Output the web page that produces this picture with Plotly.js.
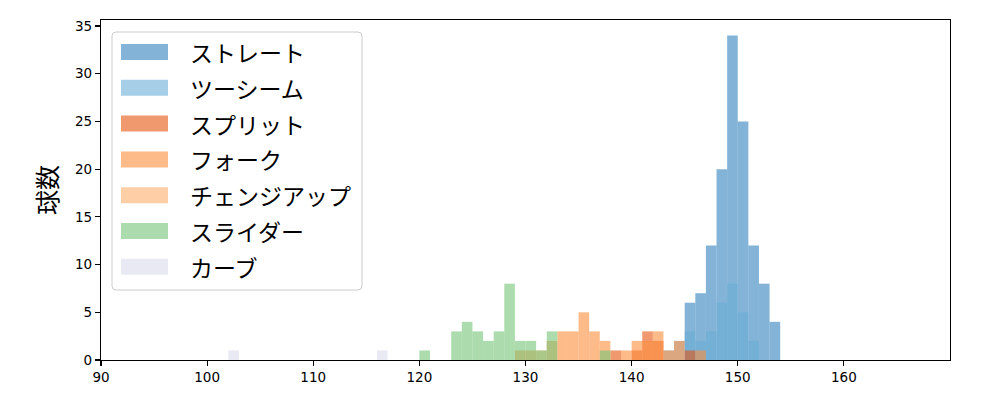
<!DOCTYPE html>
<html><head><meta charset="utf-8">
<script src="https://cdn.plot.ly/plotly-3.0.1.min.js"></script>
<style>body{margin:0;background:#fff}</style>
</head><body><div id="chart" style="width:1000px;height:400px"></div>
<script>
// ---- data (bin left edges, width 1 km/h, and pitch counts) ----
const pitchNames = ["ストレート","ツーシーム","スプリット","フォーク","チェンジアップ","スライダー","カーブ"];
const straightBins = [145,146,147,148,149,150,151,152,153];
const straightCounts = [6,7,12,20,34,25,12,8,4];
const twoSeamBins = [143,144,145,146,147,148,149,150,151];
const twoSeamCounts = [1,2,3,2,3,6,8,5,2];
const splitBins = [138,140,141,142,145];
const splitCounts = [1,1,3,2,1];
const forkBins = [129,130,132,133,134,135,136,137,139,140,141,142,143,144,146];
const forkCounts = [1,1,2,3,3,5,3,2,1,2,2,3,1,2,1];
const changeupBins = [131];
const changeupCounts = [1];
const sliderBins = [120,123,124,125,126,127,128,129,130,131,132,137];
const sliderCounts = [1,3,4,3,2,3,8,2,2,1,3,1];
const curveBins = [102,116];
const curveCounts = [1,1];
const xTicks = [90,100,110,120,130,140,150,160];
const yTicks = [0,5,10,15,20,25,30,35];
const yLabel = "球数";

// ---- styling ----
const colors = ["rgba(49,130,189,0.6)","rgba(107,174,214,0.6)","rgba(230,85,13,0.6)",
  "rgba(253,141,60,0.6)","rgba(253,174,107,0.6)","rgba(116,196,118,0.6)","rgba(218,218,235,0.6)"];
const series = [
  [straightBins, straightCounts],[twoSeamBins, twoSeamCounts],[splitBins, splitCounts],
  [forkBins, forkCounts],[changeupBins, changeupCounts],[sliderBins, sliderCounts],[curveBins, curveCounts]
];
const traces = series.map((s, i) => ({
  type: "bar", x: s[0], y: s[1], width: 1, offset: 0, name: pitchNames[i],
  marker: {color: colors[i], line: {width: 0}}, showlegend: false, hoverinfo: "x+y+name"
}));

// plot area in pixels
const L = 101, R = 950, T = 20, B = 360;
const px = v => (v - L) / (R - L);
const py = v => (B - v) / (B - T);

// custom legend (matplotlib-like)
const shapes = [];
const annotations = [];
const bx0 = 112, bx1 = 362, by0 = 32, by1 = 290, r = 4;
shapes.push({type: "path", xref: "paper", yref: "paper",
  path: `M${px(bx0 + r)},${py(by0)} L${px(bx1 - r)},${py(by0)} Q${px(bx1)},${py(by0)} ${px(bx1)},${py(by0 + r)} ` +
        `L${px(bx1)},${py(by1 - r)} Q${px(bx1)},${py(by1)} ${px(bx1 - r)},${py(by1)} ` +
        `L${px(bx0 + r)},${py(by1)} Q${px(bx0)},${py(by1)} ${px(bx0)},${py(by1 - r)} ` +
        `L${px(bx0)},${py(by0 + r)} Q${px(bx0)},${py(by0)} ${px(bx0 + r)},${py(by0)} Z`,
  fillcolor: "rgba(255,255,255,0.8)", line: {color: "#cccccc", width: 1}, layer: "above"});
pitchNames.forEach((n, i) => {
  const cy = 52 + i * 35.8;
  shapes.push({type: "rect", xref: "paper", yref: "paper", x0: px(121), x1: px(168),
    y0: py(cy + 8), y1: py(cy - 8), fillcolor: colors[i], line: {width: 0}, layer: "above"});
  annotations.push({xref: "paper", yref: "paper", x: px(188), y: py(cy), xanchor: "left", yanchor: "middle",
    text: n, showarrow: false, font: {family: "Noto Sans CJK JP", size: 23, color: "#000"}});
});

const axisCommon = {showline: true, linecolor: "#000", linewidth: 1.2, mirror: true, showgrid: false,
  zeroline: false, ticks: "outside", ticklen: 5, tickwidth: 1.2, tickcolor: "#000",
  tickfont: {family: "DejaVu Sans", size: 13.5, color: "#000"}};

const layout = {
  width: 1000, height: 400, margin: {l: L, r: 1000 - R, t: T, b: 400 - B},
  paper_bgcolor: "#fff", plot_bgcolor: "#fff", barmode: "overlay",
  xaxis: Object.assign({}, axisCommon, {range: [90, 170], tickvals: xTicks, ticktext: xTicks.map(String)}),
  yaxis: Object.assign({}, axisCommon, {range: [0, 35.63], tickvals: yTicks, ticktext: yTicks.map(String),
    title: {text: yLabel, font: {family: "Noto Sans CJK JP", size: 25, color: "#000"}, standoff: 10}}),
  shapes: shapes, annotations: annotations, showlegend: false
};
Plotly.newPlot("chart", traces, layout, {displayModeBar: false, staticPlot: true});
</script></body></html>
